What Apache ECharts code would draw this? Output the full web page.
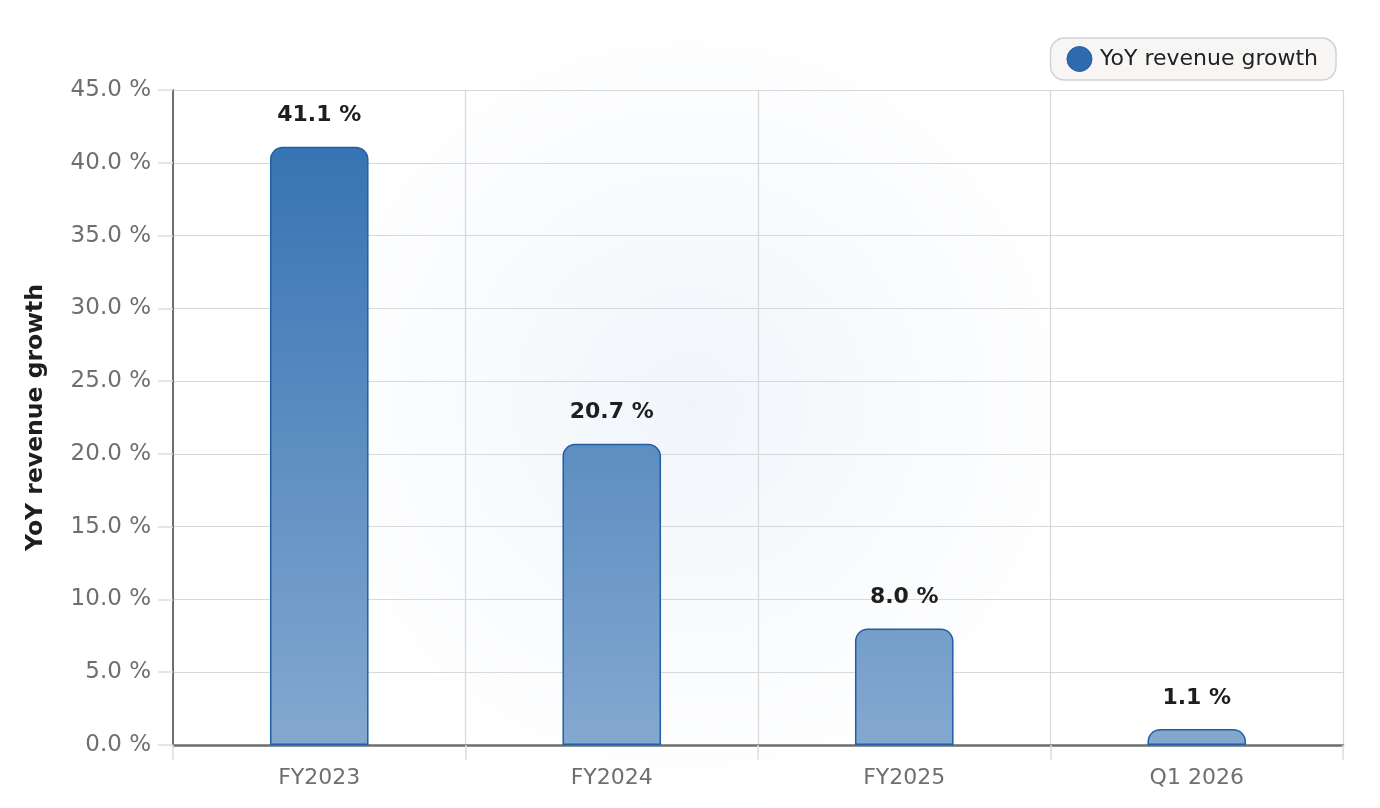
<!DOCTYPE html>
<html>
<head>
<meta charset="utf-8">
<script src="https://cdn.jsdelivr.net/npm/echarts@6/dist/echarts.min.js"></script>
<style>
  html, body { margin: 0; padding: 0; background: #fff; }
  #chart { width: 1380px; height: 808px; }
</style>
</head>
<body>
<div id="chart"></div>
<script>
var categories = ['FY2023', 'FY2024', 'FY2025', 'Q1 2026'];
var growthValues = [41.1, 20.7, 8.0, 1.1];
var seriesName = 'YoY revenue growth';

var myChart = echarts.init(document.getElementById('chart'));
myChart.setOption({
    backgroundColor: new echarts.graphic.RadialGradient(0.5, 0.5, 0.5, [
        { offset: 0, color: '#f1f5fa' },
        { offset: 1, color: '#ffffff' }
    ]),
    textStyle: { fontFamily: 'DejaVu Sans' },
    legend: {
        data: [seriesName],
        right: 44,
        top: 38,
        padding: [8, 18, 8, 16],
        backgroundColor: '#f7f6f4',
        borderColor: '#d2d2d2',
        borderWidth: 1.5,
        borderRadius: 14,
        icon: 'circle',
        itemWidth: 25,
        itemHeight: 25,
        itemGap: 8,
        textStyle: { fontSize: 22, color: '#222', padding: [0, 0, 0, 3] },
        itemStyle: { color: '#2e6aad', borderColor: '#1f5fa5', borderWidth: 1 }
    },
    grid: {
        left: 173,
        right: 37,
        top: 90,
        bottom: 63
    },
    xAxis: {
        type: 'category',
        data: categories,
        axisLine: { lineStyle: { color: '#6e6e6e', width: 2.5 } },
        axisTick: { show: true, length: 15, lineStyle: { color: '#dddddd', width: 1.5 } },
        axisLabel: { fontSize: 22, color: '#6f6f6f', margin: 22 },
        splitLine: { show: true, lineStyle: { color: '#d8d8d8', width: 1.2 } }
    },
    yAxis: {
        type: 'value',
        min: 0,
        max: 45,
        interval: 5,
        name: seriesName,
        nameLocation: 'middle',
        nameGap: 125,
        nameTextStyle: { fontSize: 23.5, fontWeight: 'bold', color: '#1e1e1e' },
        axisLine: { show: true, lineStyle: { color: '#6e6e6e', width: 2 } },
        axisTick: { show: true, length: 15, lineStyle: { color: '#dddddd', width: 1.5 } },
        axisLabel: {
            fontSize: 23,
            color: '#6f6f6f',
            margin: 22,
            formatter: function (v) { return v.toFixed(1) + ' %'; }
        },
        splitLine: { show: true, lineStyle: { color: '#d8d8d8', width: 1.2 } }
    },
    series: [
        {
            name: seriesName,
            type: 'bar',
            data: growthValues,
            barWidth: '33.7%',
            itemStyle: {
                color: new echarts.graphic.LinearGradient(0, 90, 0, 745, [
                    { offset: 0, color: '#2f6fb0' },
                    { offset: 1, color: '#84a8d0' }
                ], true),
                borderColor: '#1f5fa5',
                borderWidth: 1.5,
                borderRadius: [12, 12, 0, 0]
            },
            label: {
                show: true,
                position: 'top',
                distance: 20,
                fontSize: 22,
                fontWeight: 'bold',
                color: '#1e1e1e',
                formatter: function (p) { return p.value.toFixed(1) + ' %'; }
            }
        }
    ]
});
</script>
</body>
</html>
